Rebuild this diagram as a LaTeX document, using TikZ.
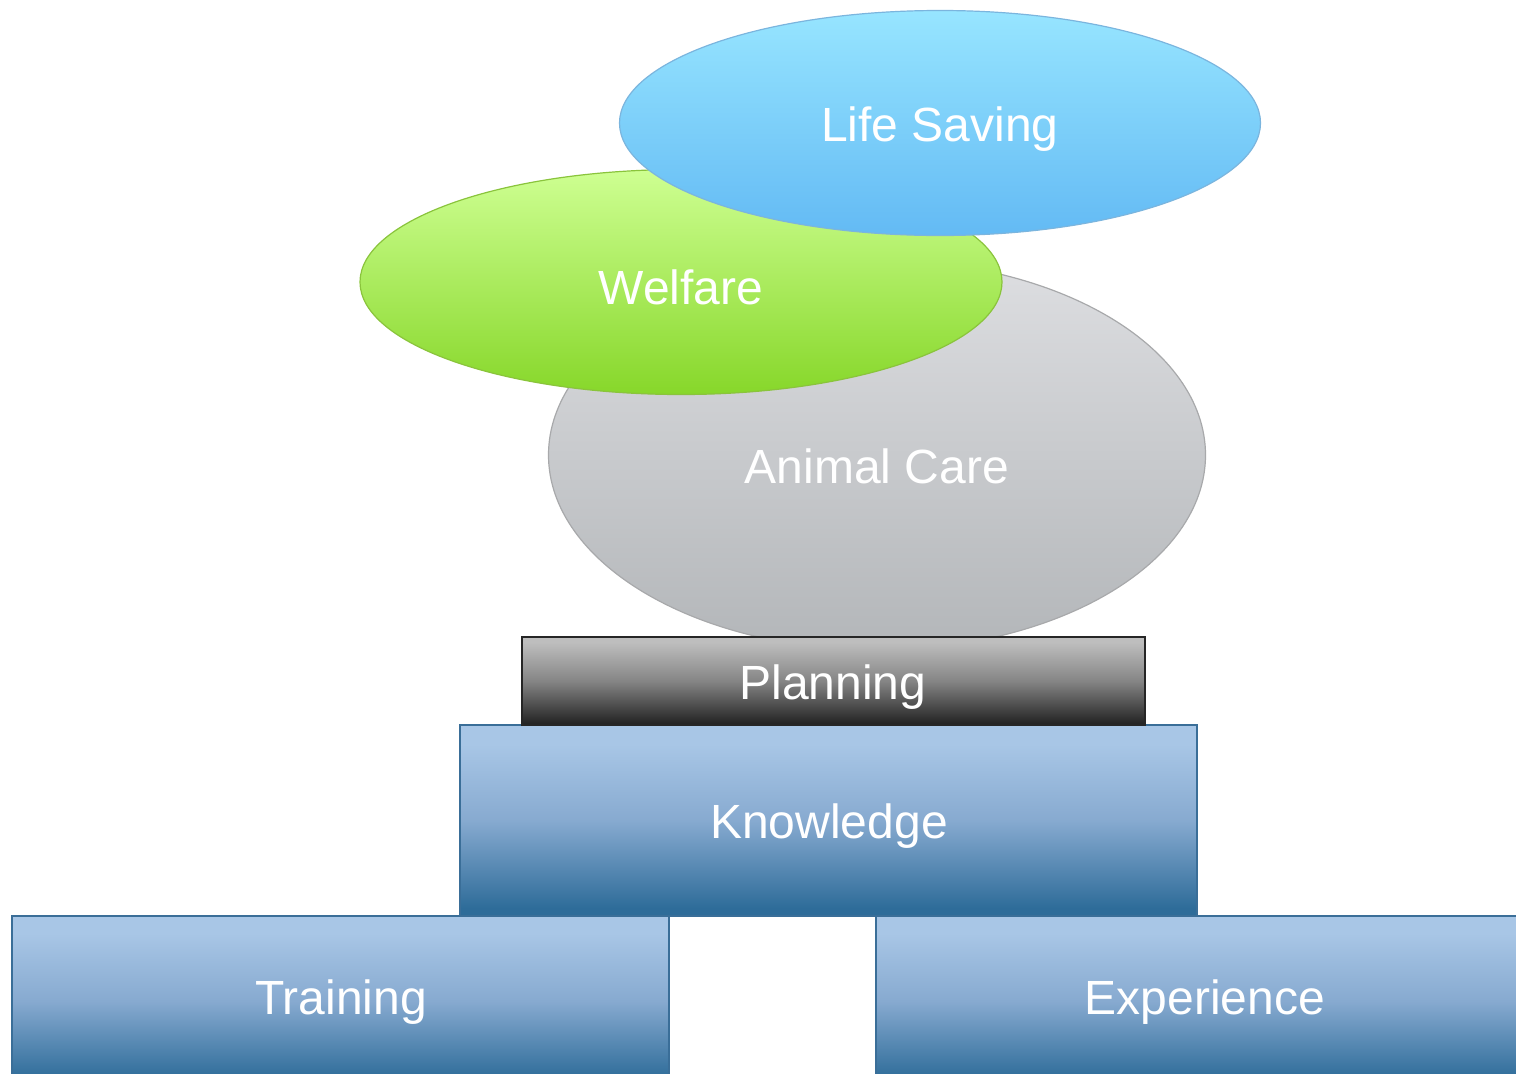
\documentclass[tikz,border=0pt]{standalone}
\usepackage{fontspec}
\setmainfont{Liberation Sans}
\usetikzlibrary{shapes.geometric}
\definecolor{lsTop}{HTML}{97E5FF}
\definecolor{lsBot}{HTML}{63BAF4}
\definecolor{lsLine}{HTML}{7BB5DE}
\definecolor{wfTop}{HTML}{CEFF92}
\definecolor{wfBot}{HTML}{87D72A}
\definecolor{wfLine}{HTML}{8AC43C}
\definecolor{acTop}{HTML}{DDDEE1}
\definecolor{acBot}{HTML}{B3B6B9}
\definecolor{acLine}{HTML}{A8A9AB}
\definecolor{plTop}{HTML}{BEBEBE}
\definecolor{plMid}{HTML}{858585}
\definecolor{plBot}{HTML}{242424}
\definecolor{blTop}{HTML}{A8C6E6}
\definecolor{blMid}{HTML}{87AAD0}
\definecolor{blBot}{HTML}{2E6C99}
\definecolor{blLine}{HTML}{3A6E98}
\pgfdeclareverticalshading{blueblock}{100bp}{
  color(0bp)=(blBot); color(25bp)=(blBot); color(27bp)=(blBot);
  color(50bp)=(blMid); color(70bp)=(blTop); color(75bp)=(blTop); color(100bp)=(blTop)}
\pgfdeclareverticalshading{planblock}{100bp}{
  color(0bp)=(plBot); color(25bp)=(plBot); color(26bp)=(plBot);
  color(50bp)=(plMid); color(72bp)=(plTop); color(75bp)=(plTop); color(100bp)=(plTop)}
\tikzset{
  lbl/.style={text=white, font=\fontsize{48}{56}\selectfont},
  oval/.style={ellipse, inner sep=0pt, line width=1.2pt},
  block/.style={rectangle, inner sep=0pt, line width=1.5pt},
  blueb/.style={block, draw=blLine, shading=blueblock},
}
\begin{document}
\begin{tikzpicture}[x=1pt,y=-1pt]
\useasboundingbox (0,0) rectangle (1516,1074);
% Animal Care ellipse
\node[oval, draw=acLine, top color=acTop, bottom color=acBot,
  minimum width=657pt, minimum height=390pt] (ac) at (877,455) {};
% Welfare ellipse
\node[oval, draw=wfLine, top color=wfTop, bottom color=wfBot,
  minimum width=642pt, minimum height=225pt] (wf) at (681,282) {};
% Life Saving ellipse
\node[oval, draw=lsLine, top color=lsTop, bottom color=lsBot,
  minimum width=641pt, minimum height=225pt] (ls) at (940,123) {};
% blocks
\node[blueb, minimum width=657pt, minimum height=170pt] (tr) at (340.5,1001) {};
\node[blueb, minimum width=660pt, minimum height=170pt] (ex) at (1206,1001) {};
\node[blueb, minimum width=737pt, minimum height=191pt] (kn) at (828.5,820.5) {};
\node[block, draw=black!85, shading=planblock,
  minimum width=623pt, minimum height=88pt] (pl) at (833.5,681) {};
% labels
\node[lbl] (lsT) at (940,129) {Life Saving};
\node[lbl] (wfT) at (681,287) {Welfare};
\node[lbl] (acT) at (877,466) {Animal Care};
\node[lbl] (plT) at (833,687) {Planning};
\node[lbl] (knT) at (829,826) {Knowledge};
\node[lbl] (trT) at (341,1002) {Training};
\node[lbl] (exT) at (1205,1002) {Experience};
\end{tikzpicture}
\end{document}
